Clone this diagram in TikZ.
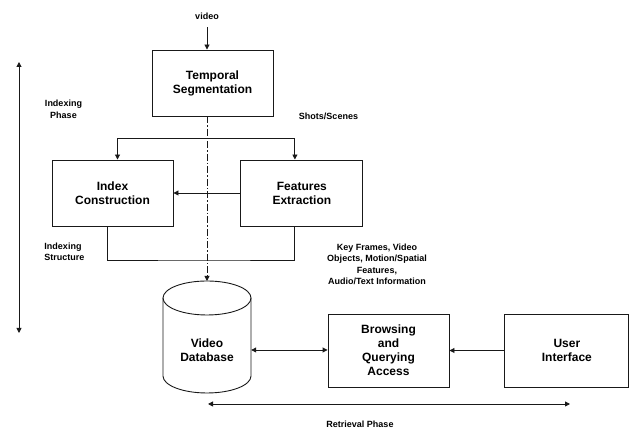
\documentclass[tikz,border=0pt]{standalone}
\usepackage{fontspec}
\setmainfont{Liberation Sans}
\usetikzlibrary{arrows.meta,positioning,calc}
\definecolor{vdline}{RGB}{25,25,25}
\tikzset{
  vblk/.style={rectangle, draw=vdline, line width=0.9pt, align=center, inner sep=0pt,
               font=\fontsize{12}{14}\selectfont\bfseries, minimum width=121pt, minimum height=66pt},
  vlbl/.style={align=center, inner sep=0pt, font=\fontsize{9}{11.5}\selectfont\bfseries},
  varr/.style={-{Triangle[length=5pt,width=5pt]}, line width=0.9pt, vdline},
  vdarr/.style={{Triangle[length=5pt,width=5pt]}-{Triangle[length=5pt,width=5pt]}, line width=0.9pt, vdline},
  vline/.style={line width=0.9pt, vdline},
}

\begin{document}
\begin{tikzpicture}[x=1pt,y=1pt,node distance=5mm and 9mm]
        \useasboundingbox (0,0) rectangle (630,430);
        % indexing part
        \node[vlbl](vid) at (207,414){video};
        \node[vblk](temp) at (212.5,347){Temporal\\Segmentation};
        \node[vblk](idx) at (112.5,237){Index\\Construction};
        \node[vblk, minimum width=122pt, right=67pt of idx](feat){Features\\Extraction};
        \node[vlbl](ixph) at (63.5,320.5){Indexing\\Phase};
        \node[vlbl](shots) at (328.5,314){Shots/Scenes};
        \node[vlbl, align=left](ixst) at (64.5,178){Indexing\\Structure};
        \node[vlbl](kf) at (377,165.5){Key Frames, Video\\Objects, Motion/Spatial\\Features,\\Audio/Text Information};
        \coordinate (split) at (207,292);
        \coordinate (join) at (207,170);
        \coordinate (dbtop) at (207,149);
        \coordinate (ixtop) at (19,368);\coordinate (ixbot) at (19,97);
        \draw[varr]([yshift=-8pt]vid.south)--(vid |- temp.north);
        \draw[varr](split)-|([xshift=5pt]idx.north);\draw[varr](split)-|([xshift=-7pt]feat.north);
        \draw[varr](feat)--(idx);
        \draw[vline]([xshift=-5pt]idx.south)|-(join)-|([xshift=-7pt]feat.south);
        \draw[varr, dash pattern=on 7pt off 2pt on 1.5pt off 2pt](temp.south -| dbtop)--(dbtop);
        \draw[vdarr](ixtop)--(ixbot);
        % retrieval part
        \node[font=\fontsize{12}{14}\selectfont\bfseries, align=center, inner sep=0pt, minimum width=88pt](db) at (207,80){Video\\Database};
        \draw[vline](dbtop)++(0,-17) ellipse[x radius=44, y radius=17];
        \draw[vline](dbtop)++(-44,-17)--++(0,-78) arc[start angle=180, end angle=360, x radius=44, y radius=17]--++(0,78);
        \node[vblk, minimum height=73pt](brow) at (388.5,79.5){Browsing\\and\\Querying\\Access};
        \node[vblk, minimum width=124pt, minimum height=73pt, right=55pt of brow](user){User\\Interface};
        \node[vlbl](retph) at (360,6){Retrieval Phase};
        \coordinate (retl) at (208,26);\coordinate (retr) at (570,26);
        \draw[vdarr](db.east)--(db.east -| brow.west);\draw[varr](user)--(brow);
        \draw[vdarr](retl)--(retr);
    \end{tikzpicture}
\end{document}
